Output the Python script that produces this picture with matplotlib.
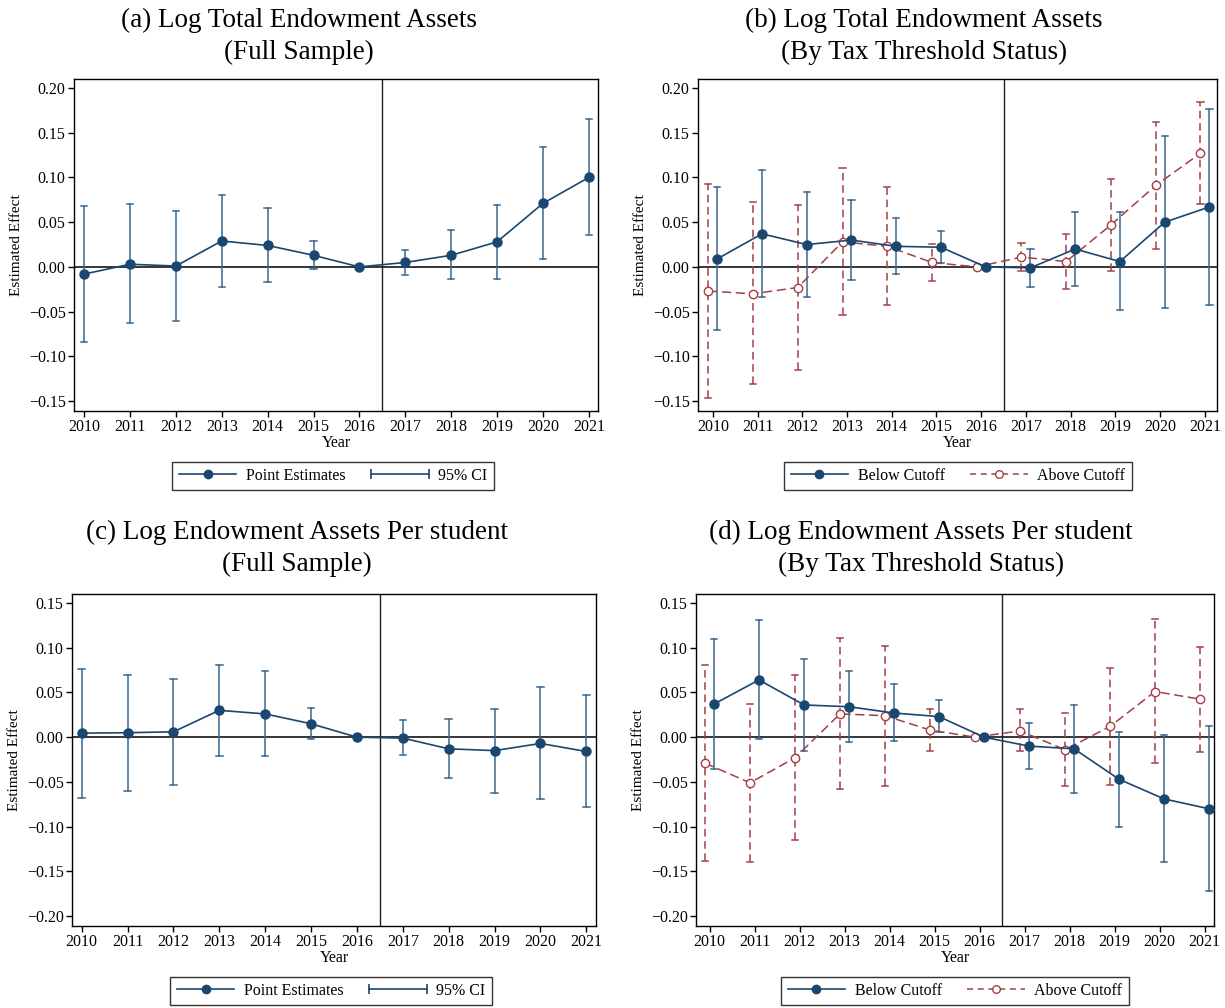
import matplotlib
matplotlib.use("Agg")
import matplotlib.pyplot as plt
from matplotlib.lines import Line2D
from matplotlib.legend_handler import HandlerLine2D

plt.rcParams['font.family'] = ['Liberation Serif', 'DejaVu Serif']

years = [2010, 2011, 2012, 2013, 2014, 2015, 2016, 2017, 2018, 2019, 2020, 2021]

# (a) log total endowment assets, full sample
a_est = [-0.008, 0.003, 0.001, 0.029, 0.024, 0.013, 0.0, 0.005, 0.013, 0.028, 0.071, 0.100]
a_hi = [0.0685, 0.070, 0.062, 0.080, 0.066, 0.029, None, 0.019, 0.041, 0.069, 0.134, 0.165]
a_lo = [-0.084, -0.063, -0.060, -0.022, -0.017, -0.002, None, -0.009, -0.014, -0.013, 0.009, 0.036]

# (b) log total endowment assets, by tax threshold
b_below = [0.009, 0.037, 0.025, 0.030, 0.023, 0.022, 0.0, -0.001, 0.020, 0.006, 0.050, 0.067]
b_below_hi = [0.089, 0.108, 0.084, 0.075, 0.055, 0.040, None, 0.020, 0.061, 0.061, 0.146, 0.177]
b_below_lo = [-0.071, -0.034, -0.034, -0.015, -0.008, 0.0045, None, -0.022, -0.021, -0.048, -0.046, -0.042]
b_above = [-0.027, -0.030, -0.023, 0.028, 0.023, 0.005, 0.0, 0.011, 0.006, 0.047, 0.091, 0.127]
b_above_hi = [0.093, 0.072, 0.069, 0.110, 0.089, 0.026, None, 0.027, 0.037, 0.098, 0.162, 0.184]
b_above_lo = [-0.146, -0.131, -0.115, -0.054, -0.043, -0.016, None, -0.0045, -0.025, -0.004, 0.020, 0.070]

# (c) log endowment assets per student, full sample
c_est = [0.0045, 0.005, 0.006, 0.030, 0.026, 0.015, 0.0, -0.001, -0.013, -0.015, -0.007, -0.016]
c_hi = [0.0765, 0.070, 0.065, 0.081, 0.0735, 0.033, None, 0.019, 0.020, 0.032, 0.056, 0.047]
c_lo = [-0.068, -0.060, -0.053, -0.021, -0.021, -0.002, None, -0.020, -0.046, -0.062, -0.069, -0.078]

# (d) log endowment assets per student, by tax threshold
d_below = [0.037, 0.064, 0.036, 0.034, 0.027, 0.023, 0.0, -0.010, -0.013, -0.047, -0.069, -0.080]
d_below_hi = [0.110, 0.131, 0.087, 0.0735, 0.059, 0.041, None, 0.016, 0.0365, 0.006, 0.002, 0.012]
d_below_lo = [-0.035, -0.002, -0.015, -0.005, -0.004, 0.006, None, -0.035, -0.062, -0.100, -0.1395, -0.172]
d_above = [-0.029, -0.051, -0.023, 0.026, 0.024, 0.008, 0.0, 0.007, -0.014, 0.012, 0.051, 0.0425]
d_above_hi = [0.081, 0.0375, 0.069, 0.111, 0.102, 0.032, None, 0.031, 0.0275, 0.077, 0.132, 0.101]
d_above_lo = [-0.138, -0.139, -0.115, -0.058, -0.054, -0.015, None, -0.016, -0.055, -0.053, -0.029, -0.017]

titles = ["(a) Log Total Endowment Assets\n(Full Sample)",
          "(b) Log Total Endowment Assets\n(By Tax Threshold Status)",
          "(c) Log Endowment Assets Per student\n(Full Sample)",
          "(d) Log Endowment Assets Per student\n(By Tax Threshold Status)"]

NAVY = "#1a476f"
CI_BLUE = "#3a6790"
MAROON = "#a33f45"

W, H = 1225, 1008
fig = plt.figure(figsize=(W / 100, H / 100), dpi=100)


def add_ax(l, r, t, b):
    return fig.add_axes([l / W, 1 - b / H, (r - l) / W, (b - t) / H])


def draw_ci(ax, xs, lo, hi, color, ls):
    for x, l, h in zip(xs, lo, hi):
        if l is None:
            continue
        if ls == '--':
            ax.plot([x, x], [l, h], color=color, lw=1.1, dashes=(5, 3))
        else:
            ax.plot([x, x], [l, h], color=color, lw=1.1)
        for y in (l, h):
            ax.plot([x - 0.07, x + 0.07], [y, y], color=color, lw=1.1)


def style(ax, ylim, yticks, xlim):
    ax.set_xlim(*xlim)
    ax.set_ylim(*ylim)
    ax.set_xticks(years)
    ax.set_yticks(yticks)
    ax.set_yticklabels([f"{v:.2f}".replace('-', '\u2212') for v in yticks])
    ax.axhline(0, color='black', lw=1.1, zorder=1)
    ax.axvline(2016.5, color='#222222', lw=1.0, zorder=1)
    ax.tick_params(direction='out', length=4, width=1, labelsize=11.5, pad=2)
    for s in ax.spines.values():
        s.set_linewidth(1.0)
    ax.set_xlabel("Year", fontsize=11.5, labelpad=0)
    ax.set_ylabel("Estimated Effect", fontsize=11, labelpad=4)


def full_panel(ax, est, lo, hi):
    draw_ci(ax, years, lo, hi, CI_BLUE, '-')
    ax.plot(years, est, color=NAVY, lw=1.2, marker='o', ms=6.5, zorder=3)


def split_panel(ax, bel, bel_lo, bel_hi, abv, abv_lo, abv_hi):
    xb = [y + 0.1 for y in years]
    xa = [y - 0.1 for y in years]
    draw_ci(ax, xa, abv_lo, abv_hi, MAROON, '--')
    draw_ci(ax, xb, bel_lo, bel_hi, CI_BLUE, '-')
    ax.plot(xa, abv, color=MAROON, lw=1.1, dashes=(6, 3), marker='o', ms=6,
            mfc='white', mec=MAROON, mew=1.0, zorder=3)
    ax.plot(xb, bel, color=NAVY, lw=1.2, marker='o', ms=6.5, zorder=4)


def legend(handles, labels, cx, cy, hmap):
    leg = fig.legend(handles, labels, loc='center',
                     bbox_to_anchor=(cx / W, 1 - cy / H), ncol=2, fontsize=11.5,
                     handlelength=3.6, handletextpad=0.6, columnspacing=1.6,
                     frameon=True, fancybox=False, edgecolor='black', borderpad=0.4,
                     borderaxespad=0, handler_map=hmap)
    leg.get_frame().set_linewidth(1.0)


def full_legend(cx, cy):
    h1 = Line2D([], [], color=NAVY, lw=1.2, marker='o', ms=6)
    h2 = Line2D([], [], color=NAVY, lw=1.2, marker='|', ms=7, mew=1.2)
    legend([h1, h2], ["Point Estimates", "95% CI"], cx, cy,
           {h1: HandlerLine2D(numpoints=1), h2: HandlerLine2D(numpoints=2, marker_pad=0)})


def split_legend(cx, cy):
    h1 = Line2D([], [], color=NAVY, lw=1.2, marker='o', ms=6)
    h2 = Line2D([], [], color=MAROON, lw=1.1, dashes=(4, 3), marker='o', ms=5.5,
                mfc='white', mec=MAROON)
    legend([h1, h2], ["Below Cutoff", "Above Cutoff"], cx, cy,
           {h1: HandlerLine2D(numpoints=1), h2: HandlerLine2D(numpoints=1)})


def title(text, cx, base1, base2):
    l1, l2 = text.split("\n")
    fig.text(cx / W, 1 - base1 / H, l1, fontsize=19.5, ha='center', va='baseline')
    fig.text(cx / W, 1 - base2 / H, l2, fontsize=19.5, ha='center', va='baseline')


ax_a = add_ax(74, 598, 79, 411)
full_panel(ax_a, a_est, a_lo, a_hi)
style(ax_a, (-0.161, 0.21), [-0.15, -0.10, -0.05, 0.0, 0.05, 0.10, 0.15, 0.20], (2009.78, 2021.2))

ax_b = add_ax(698, 1217, 79, 411)
split_panel(ax_b, b_below, b_below_lo, b_below_hi, b_above, b_above_lo, b_above_hi)
style(ax_b, (-0.161, 0.21), [-0.15, -0.10, -0.05, 0.0, 0.05, 0.10, 0.15, 0.20], (2009.67, 2021.27))

ax_c = add_ax(72, 596, 594, 926)
full_panel(ax_c, c_est, c_lo, c_hi)
style(ax_c, (-0.211, 0.16), [-0.20, -0.15, -0.10, -0.05, 0.0, 0.05, 0.10, 0.15], (2009.79, 2021.21))

ax_d = add_ax(696, 1214, 594, 926)
split_panel(ax_d, d_below, d_below_lo, d_below_hi, d_above, d_above_lo, d_above_hi)
style(ax_d, (-0.211, 0.16), [-0.20, -0.15, -0.10, -0.05, 0.0, 0.05, 0.10, 0.15], (2009.7, 2021.21))

title(titles[0], 299, 27, 59)
title(titles[1], 924, 27, 59)
title(titles[2], 297, 539, 571)
title(titles[3], 921, 539, 571)

full_legend(333, 476)
split_legend(958, 476)
full_legend(331, 991)
split_legend(955, 991)

fig.savefig("out.png", dpi=100)
